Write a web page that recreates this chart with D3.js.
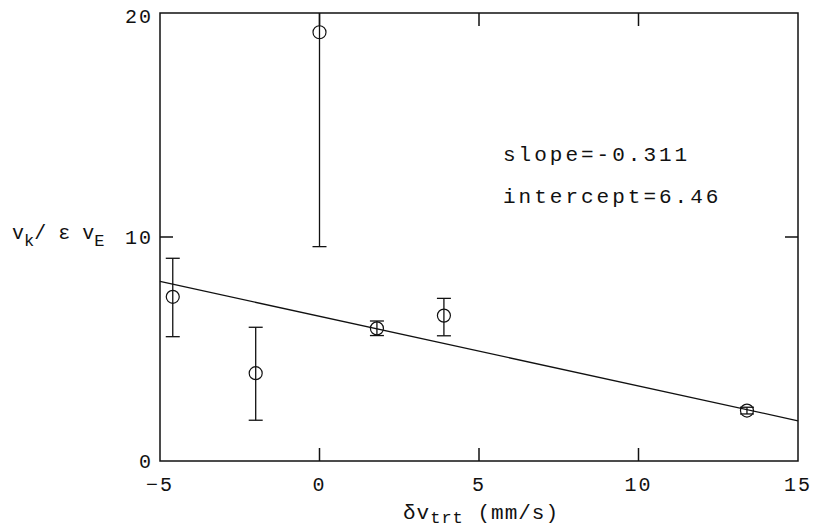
<!DOCTYPE html>
<html><head><meta charset="utf-8">
<script src="https://cdn.jsdelivr.net/npm/d3@7"></script>
<style>body{margin:0;background:#fff}svg{display:block}text{font-family:"Liberation Mono","Courier New",monospace;fill:#111}</style>
</head><body><svg id="c" width="819" height="531"></svg>
<script>
const xVals = [-4.6, -2.0, 0.0, 1.8, 3.9, 13.4];
const yVals = [7.33, 3.92, 19.14, 5.92, 6.49, 2.25];
const yErrLow = [5.55, 1.82, 9.57, 5.6, 5.59, 2.1];
const yErrHigh = [9.05, 5.97, 28.7, 6.25, 7.26, 2.4];
const xTicks = [-5, 0, 5, 10, 15];
const yTicks = [0, 10, 20];
const slope = -0.311, intercept = 6.46;
const fitLabels = ["slope=-0.311", "intercept=6.46"];

const svg = d3.select("#c");
const L = 160, R = 798, T = 13, B = 461;
const x = d3.scaleLinear().domain([-5, 15]).range([L, R]);
const y = d3.scaleLinear().domain([0, 20]).range([B, T]);

const g = svg.append("g");
g.append("rect").attr("x", L).attr("y", T).attr("width", R - L).attr("height", B - T)
  .attr("fill", "none").attr("stroke", "#111").attr("stroke-width", 1.5);

const tl = 13;
xTicks.filter(v => v > -5 && v < 15).forEach(v => {
  g.append("line").attr("x1", x(v)).attr("x2", x(v)).attr("y1", B).attr("y2", B - tl).attr("stroke", "#111").attr("stroke-width", 1.5);
  g.append("line").attr("x1", x(v)).attr("x2", x(v)).attr("y1", T).attr("y2", T + tl).attr("stroke", "#111").attr("stroke-width", 1.5);
});
yTicks.filter(v => v > 0 && v < 20).forEach(v => {
  g.append("line").attr("x1", L).attr("x2", L + tl).attr("y1", y(v)).attr("y2", y(v)).attr("stroke", "#111").attr("stroke-width", 1.5);
  g.append("line").attr("x1", R).attr("x2", R - tl).attr("y1", y(v)).attr("y2", y(v)).attr("stroke", "#111").attr("stroke-width", 1.5);
});
xTicks.forEach(v => {
  g.append("text").attr("x", x(v)).attr("y", 491).attr("text-anchor", "middle")
    .attr("font-size", 20).attr("letter-spacing", 2).text(v < 0 ? "\u2212" + Math.abs(v) : v);
});
yTicks.forEach(v => {
  g.append("text").attr("x", 153).attr("y", y(v) + (v === 20 ? 3 : 0)).attr("dy", "0.35em").attr("text-anchor", "end")
    .attr("font-size", 20).attr("letter-spacing", 2).text(v);
});

g.append("line").attr("x1", x(-5)).attr("y1", y(intercept + slope * -5))
  .attr("x2", x(15)).attr("y2", y(intercept + slope * 15)).attr("stroke", "#111").attr("stroke-width", 1.3);

const clip = v => Math.max(0, Math.min(20, v));
const cap = 7;
xVals.forEach((xv, i) => {
  const cx = x(xv);
  g.append("line").attr("x1", cx).attr("x2", cx).attr("y1", y(clip(yErrLow[i]))).attr("y2", y(clip(yErrHigh[i])))
    .attr("stroke", "#111").attr("stroke-width", 1.3);
  [yErrLow[i], yErrHigh[i]].forEach(v => {
    if (v > 0 && v < 20) g.append("line").attr("x1", cx - cap).attr("x2", cx + cap).attr("y1", y(v)).attr("y2", y(v))
      .attr("stroke", "#111").attr("stroke-width", 1.3);
  });
  g.append("circle").attr("cx", cx).attr("cy", y(yVals[i])).attr("r", 6.5)
    .attr("fill", "none").attr("stroke", "#111").attr("stroke-width", 1.2);
});

fitLabels.forEach((t, i) => {
  g.append("text").attr("x", 503).attr("y", 161 + i * 42).attr("font-size", 21).attr("letter-spacing", 3).text(t);
});

const yl = g.append("text").attr("x", 12).attr("y", 239).attr("font-size", 20).attr("letter-spacing", 0);
yl.append("tspan").text("v");
yl.append("tspan").attr("dy", 7).attr("font-size", 17).text("k");
yl.append("tspan").attr("dy", -7).text("/ \u03b5 v");
yl.append("tspan").attr("dy", 7).attr("font-size", 17).text("E");

const xl = g.append("text").attr("x", 403).attr("y", 519).attr("font-size", 21).attr("letter-spacing", 1);
xl.append("tspan").text("\u03b4v");
xl.append("tspan").attr("dy", 4).attr("font-size", 17).text("trt");
xl.append("tspan").attr("dy", -4).text(" (mm/s)");
</script></body></html>
